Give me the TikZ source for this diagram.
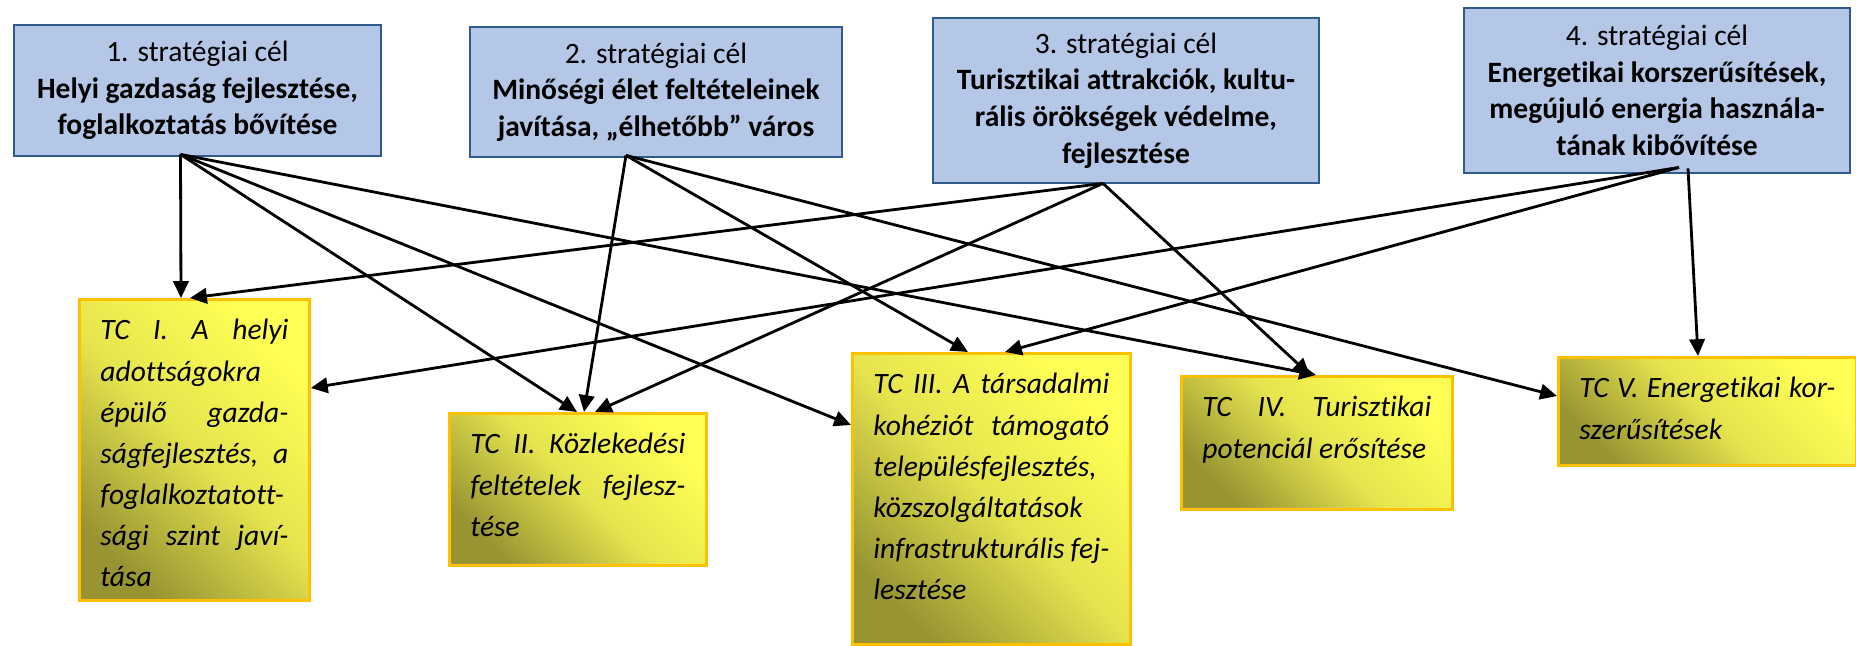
\documentclass[tikz,border=0pt]{standalone}
\usepackage{fontspec}
\setmainfont{Carlito}[Ligatures=NoCommon]
\usetikzlibrary{arrows.meta,calc}

\definecolor{stratfill}{HTML}{B4C7E7}
\definecolor{stratline}{HTML}{2F5A8C}
\definecolor{tcline}{HTML}{FFC000}
\definecolor{tclight}{HTML}{FFFF55}
\definecolor{tcmid}{HTML}{E5E44E}
\definecolor{tcdark}{HTML}{989432}

% justified line of fixed width
\newcommand{\jl}[1]{\makebox[\linewidth][s]{#1}}

\begin{document}
\begin{tikzpicture}[
	x = 0.1mm, y = -0.1mm,
	strat/.style = {draw = stratline, fill = stratfill, line width = 0.8pt, align = center, inner sep = 0pt, font = \fontsize{8.4}{10.4}\selectfont},
	tc/.style = {draw = tcline, line width = 0.8pt, top color = tclight, bottom color = tcdark, middle color = tcmid, shading angle = -45, anchor = north west, inner xsep = 2.1mm, inner ysep = 2mm, font = \fontsize{8.4}{11.7}\selectfont\itshape},
	link/.style = {line width = 0.8pt, -{Triangle[length = 4.8pt, width = 4.4pt]}}
	]
	\useasboundingbox (0,0) rectangle (1856,645);

	% strategic goals
	\node[strat, minimum width = 36.7mm, minimum height = 13.1mm] (s1) at (197.5,90.5) {1. stratégiai cél\\ \textbf{Helyi gazdaság fejlesztése,}\\ \textbf{foglalkoztatás bővítése}};
	\node[strat, minimum width = 37.2mm, minimum height = 13mm] (s2) at (656,92) {2. stratégiai cél\\ \textbf{Minőségi élet feltételeinek}\\ \textbf{javítása, „élhetőbb” város}};
	\node[strat, minimum width = 38.6mm, minimum height = 16.5mm] (s3) at (1126,100.5) {3. stratégiai cél\\ \textbf{Turisztikai attrakciók, kultu-}\\ \textbf{rális örökségek védelme,}\\ \textbf{fejlesztése}};
	\node[strat, minimum width = 38.6mm, minimum height = 16.5mm] (s4) at (1657,90.5) {4. stratégiai cél\\ \textbf{Energetikai korszerűsítések,}\\ \textbf{megújuló energia használa-}\\ \textbf{tának kibővítése}};

	% thematic goals
	\node[tc] (tc1) at (78,298) {\parbox[t][26.1mm][t]{18.8mm}{\jl{TC I. A helyi}\\ adottságokra\\ \jl{épülő gazda-}\\ \jl{ságfejlesztés, a}\\ foglalkoztatott-\\ \jl{sági szint javí-}\\ tása}};
	\node[tc] (tc2) at (448,412) {\parbox[t][11.2mm][t]{21.5mm}{\jl{TC II. Közlekedési}\\ \jl{feltételek fejlesz-}\\ tése}};
	\node[tc] (tc3) at (851,352) {\parbox[t][25.1mm][t]{23.6mm}{\jl{TC III. A társadalmi}\\ \jl{kohéziót támogató}\\ településfejlesztés,\\ közszolgáltatások\\ \jl{infrastrukturális fej-}\\ lesztése}};
	\node[tc] (tc4) at (1180,375) {\parbox[t][9.3mm][t]{22.9mm}{\jl{TC IV. Turisztikai}\\ potenciál erősítése}};
	\node[tc] (tc5) at (1557,356) {\parbox[t][6.8mm][t]{25.6mm}{\jl{TC V. Energetikai kor-}\\ szerűsítések}};

	\coordinate (s1o) at ($(s1.south)+(-17,-3)$);
	\coordinate (s2o) at ($(s2.south)+(-30,-3)$);
	\coordinate (s3o) at ($(s3.south)+(-23,-1)$);
	\coordinate (s4o) at ($(s4.south)+(22,-7)$);
	\coordinate (s4v) at ($(s4.south)+(31,-6)$);

	\draw[link] (s1o) -- ($(tc1.north west)+(103,0)$);
	\draw[link] (s1o) -- ($(tc2.north west)+(129,0)$);
	\draw[link] (s1o) -- ($(tc3.north west)+(0,73)$);
	\draw[link] (s1o) -- ($(tc4.north west)+(136,0)$);

	\draw[link] (s2o) -- ($(tc2.north west)+(136,0)$);
	\draw[link] (s2o) -- ($(tc3.north west)+(117,0)$);
	\draw[link] (s2o) -- ($(tc5.north west)+(0,40)$);

	\draw[link] (s3o) -- ($(tc1.north west)+(112,0)$);
	\draw[link] (s3o) -- ($(tc2.north west)+(147,0)$);
	\draw[link] (s3o) -- ($(tc4.north west)+(130,0)$);

	\draw[link] (s4o) -- ($(tc1.north east)+(0,90)$);
	\draw[link] (s4o) -- ($(tc3.north west)+(154,0)$);
	\draw[link] (s4v) -- ($(tc5.north west)+(141,0)$);
\end{tikzpicture}
\end{document}
